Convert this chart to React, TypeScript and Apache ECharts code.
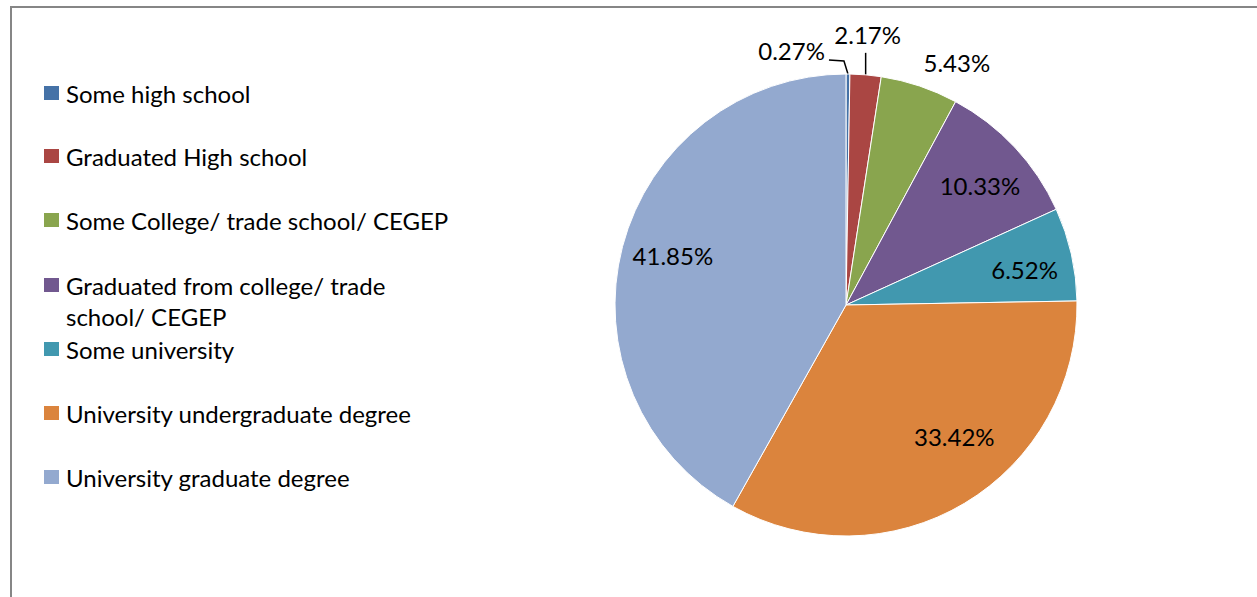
import React, { useEffect, useRef } from "react";
import * as echarts from "echarts";

const categories = [
  "Some high school",
  "Graduated High school",
  "Some College/ trade school/ CEGEP",
  "Graduated from college/ trade school/ CEGEP",
  "Some university",
  "University undergraduate degree",
  "University graduate degree",
];
const values = [0.27, 2.17, 5.43, 10.33, 6.52, 33.42, 41.85];
const colors = ["#4572A7", "#AA4643", "#89A54E", "#71588F", "#4198AF", "#DB843D", "#93A9CF"];
const legendTexts = [
  "Some high school",
  "Graduated High school",
  "Some College/ trade school/ CEGEP",
  "Graduated from college/ trade",
  "Some university",
  "University undergraduate degree",
  "University graduate degree",
];
const legendContinuation = "school/ CEGEP";
const insideLabel = [false, false, false, true, true, true, true];

const FONT = "Lato";
const FS = 24;
const CX = 846;
const CY = 305;
const R = 231;

export default function App() {
  const ref = useRef<HTMLDivElement>(null);
  useEffect(() => {
    if (!ref.current) return;
    const chart = echarts.init(ref.current, null, { renderer: "svg" });
    const legendTops = [72.5, 135.5, 199.5, 264.5, 328.5, 392.5, 456.5];
    const legends = categories.map((c, i) => ({
      left: 39,
      top: legendTops[i],
      orient: "vertical",
      itemWidth: 15,
      itemHeight: 14,
      itemGap: 0,
      icon: "rect",
      selectedMode: false,
      itemStyle: { borderWidth: 0 },
      data: [c],
      formatter: () => legendTexts[i],
      textStyle: {
        fontFamily: FONT,
        fontSize: FS,
        color: "#000",
        lineHeight: 31,
        padding: [0, 0, 0, 2],
      },
    }));
    const fmt = (p: any) => p.value.toFixed(2) + "%";
    chart.setOption({
      animation: false,
      color: colors,
      legend: legends,
      graphic: [
        {
          type: "polyline",
          shape: { points: [[11, 620], [11, 7], [1270, 7]] },
          style: { stroke: "#868686", lineWidth: 2, fill: "none" },
          silent: true,
        },
        {
          type: "text",
          left: 66,
          top: 304,
          style: { text: legendContinuation, fontFamily: FONT, fontSize: FS, fill: "#000" },
          silent: true,
        },
      ],
      series: [
        {
          type: "pie",
          center: [CX, CY],
          radius: [0, R],
          startAngle: 90,
          clockwise: true,
          silent: true,
          itemStyle: { borderColor: "#fff", borderWidth: 1 },
          data: categories.map((c, i) => ({
            name: c,
            value: values[i],
            label: { show: !insideLabel[i] },
            labelLine: { show: i < 2 },
          })),
          label: {
            position: "outside",
            formatter: fmt,
            fontFamily: FONT,
            fontSize: FS,
            color: "#000",
          },
          labelLine: { length: 10, length2: 10, lineStyle: { color: "#000", width: 1.5 } },
          labelLayout: (p: any) => {
            const pts = p.labelLinePoints;
            if (!pts) return {};
            const [x0, y0] = pts[0];
            if (p.dataIndex === 0) {
              return {
                x: x0 - 23,
                y: y0 - 24,
                align: "right",
                verticalAlign: "middle",
                labelLinePoints: [[x0, y0], [x0 - 4, y0 - 13], [x0 - 19, y0 - 14]],
              };
            }
            if (p.dataIndex === 1) {
              return {
                x: x0 + 2,
                y: y0 - 40,
                align: "center",
                verticalAlign: "middle",
                labelLinePoints: [[x0, y0], [x0, y0 - 22], [x0, y0 - 22]],
              };
            }
            if (p.dataIndex === 2) {
              return { x: x0 + 4, y: y0 - 24, align: "left", verticalAlign: "middle" };
            }
            return {};
          },
        },
        {
          type: "pie",
          center: [CX, CY],
          radius: [0, R * 1.55],
          startAngle: 90,
          clockwise: true,
          silent: true,
          itemStyle: { color: "rgba(0,0,0,0)", borderWidth: 0 },
          data: categories.map((c, i) => ({
            name: c,
            value: values[i],
            label: { show: insideLabel[i] },
          })),
          label: {
            position: "inside",
            formatter: fmt,
            fontFamily: FONT,
            fontSize: FS,
            color: "#000",
          },
          labelLine: { show: false },
          labelLayout: (p: any) => {
            if (p.dataIndex === 5) return { dx: 15, dy: -25 };
            if (p.dataIndex === 3 || p.dataIndex === 4) return { dx: 1, dy: 5 };
            if (p.dataIndex === 6) return { dx: 3, dy: -3 };
            return {};
          },
        },
      ],
    });
    return () => chart.dispose();
  }, []);
  return (
    <div
      ref={ref}
      style={{ position: "fixed", left: 0, top: 0, width: 1257, height: 597, background: "#fff" }}
    />
  );
}
